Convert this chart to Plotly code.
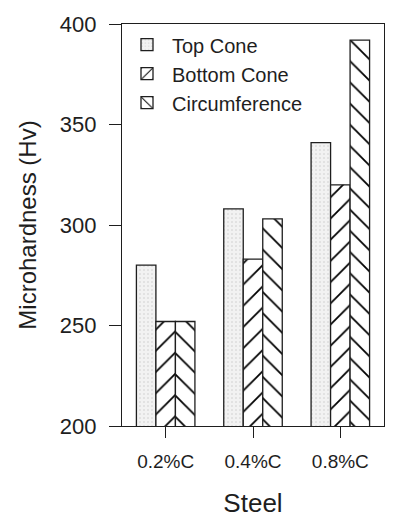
import plotly.graph_objects as go

# Microhardness of three locations for each steel grade
steels = ["0.2%C", "0.4%C", "0.8%C"]
top_cone = [280, 308, 341]
bottom_cone = [252, 283, 320]
circumference = [252, 303, 392]

y_ticks = [200, 250, 300, 350, 400]

INK = "#1e1e1e"
FONT = "Liberation Sans, Arial, Helvetica, sans-serif"

fig = go.Figure()

fig.add_trace(go.Bar(
    name="Top Cone", x=steels, y=top_cone,
    marker=dict(
        color="#efefef",
        line=dict(color=INK, width=1.3),
        pattern=dict(shape=".", fgcolor="#a0a0a0", bgcolor="#f2f2f2",
                     size=4, solidity=0.12),
    ),
))
fig.add_trace(go.Bar(
    name="Bottom Cone", x=steels, y=bottom_cone,
    marker=dict(
        color="white",
        line=dict(color=INK, width=1.3),
        pattern=dict(shape="/", fgcolor="#000000", fgopacity=1,
                     bgcolor="white", size=15, solidity=0.12),
    ),
))
fig.add_trace(go.Bar(
    name="Circumference", x=steels, y=circumference,
    marker=dict(
        color="white",
        line=dict(color=INK, width=1.3),
        pattern=dict(shape="\\", fgcolor="#000000", fgopacity=1,
                     bgcolor="white", size=15, solidity=0.12),
    ),
))

fig.update_layout(
    width=398, height=524,
    margin=dict(l=122, r=14, t=15, b=98),
    paper_bgcolor="white", plot_bgcolor="white",
    barmode="group", bargap=0.33, bargroupgap=0,
    font=dict(family=FONT, color=INK),
    showlegend=True,
    legend=dict(
        x=0.0, y=0.997, xanchor="left", yanchor="top",
        bgcolor="rgba(0,0,0,0)", borderwidth=0,
        font=dict(size=20, family=FONT, color=INK),
        itemwidth=40, tracegroupgap=0,
    ),
    xaxis=dict(
        type="category", range=[-0.5, 2.5],
        showline=True, linecolor=INK, linewidth=1.3, mirror=True,
        ticks="outside", ticklen=11, tickwidth=1.3, tickcolor=INK,
        tickfont=dict(size=19, family=FONT, color=INK),
        ticklabelstandoff=7,
        showgrid=False, zeroline=False,
        title=dict(text="Steel", font=dict(size=26, family=FONT, color=INK),
                   standoff=22),
    ),
    yaxis=dict(
        range=[200, 400], tickvals=y_ticks,
        showline=True, linecolor=INK, linewidth=1.3, mirror=True,
        ticks="outside", ticklen=12, tickwidth=1.3, tickcolor=INK,
        tickfont=dict(size=22, family=FONT, color=INK),
        ticklabelstandoff=8,
        showgrid=False, zeroline=False,
        title=dict(text="Microhardness (Hv)",
                   font=dict(size=24, family=FONT, color=INK), standoff=16),
    ),
)

fig.write_html("out.html")
